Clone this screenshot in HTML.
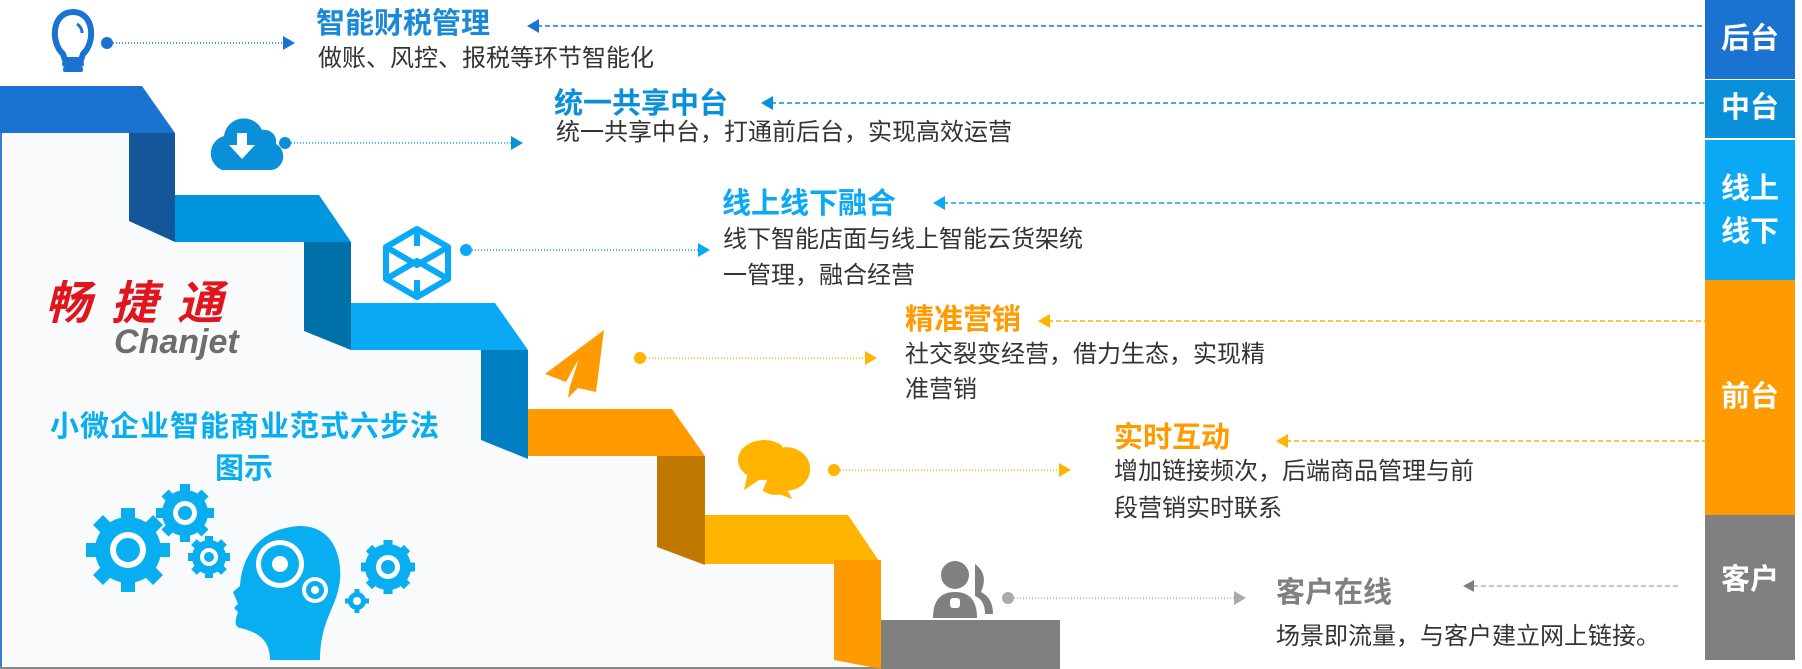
<!DOCTYPE html>
<html><head><meta charset="utf-8"><style>
html,body{margin:0;padding:0;background:#fff;}
body{width:1802px;height:669px;position:relative;overflow:hidden;font-family:"Liberation Sans","Noto Sans CJK SC",sans-serif;}
.t{position:absolute;white-space:nowrap;line-height:1;}
.h{font-weight:bold;font-size:29px;}
.s{font-size:24px;color:#333;}
.bar{position:absolute;left:1705px;width:90px;color:#fff;font-weight:bold;font-size:29px;text-align:center;display:flex;align-items:center;justify-content:center;line-height:1.5;}
</style></head><body>
<svg width="1802" height="669" style="position:absolute;left:0;top:0">
<polygon points="0,133 129,133 129,221 175,242 304,242 304,331 351,350 481,350 481,440 528,459 657,459 657,547 705,565 834,565 834,660 881,669 0,669" fill="#f9fafc"/>
<line x1="1" y1="133" x2="1" y2="669" stroke="#3a7bd0" stroke-width="2"/>
<line x1="0" y1="668" x2="881" y2="668" stroke="#888" stroke-width="2"/>
<polygon points="0,86 142,86 175,133 0,133" fill="#1a73d0"/>
<polygon points="129,133 175,133 175,242 129,221" fill="#14569a"/>
<polygon points="175,195 319,195 351,242 175,242" fill="#0095dd"/>
<polygon points="304,242 351,242 351,350 304,331" fill="#0070a8"/>
<polygon points="351,303 495,303 528,350 351,350" fill="#0aa9f5"/>
<polygon points="481,350 528,350 528,459 481,440" fill="#0080c2"/>
<polygon points="528,409 672,409 705,456 528,456" fill="#ff9a00"/>
<polygon points="657,456 705,456 705,565 657,547" fill="#c07800"/>
<polygon points="705,515 848,515 881,564 705,564" fill="#ffb400"/>
<polygon points="834,560 881,560 881,669 834,660" fill="#ff9a00"/>
<rect x="881" y="620" width="179" height="49" fill="#808080"/>

<g stroke-width="1.5" stroke-dasharray="5,3" fill="none">
<line x1="537" y1="26" x2="1705" y2="26" stroke="#1a73d0"/>
<line x1="771" y1="103" x2="1705" y2="103" stroke="#0a90d8"/>
<line x1="943" y1="203" x2="1705" y2="203" stroke="#0aa9f5"/>
<line x1="1048" y1="321" x2="1705" y2="321" stroke="#ffb400"/>
<line x1="1286" y1="441" x2="1705" y2="441" stroke="#ffb400"/>
<line x1="1473" y1="586" x2="1680" y2="586" stroke="#888" stroke-width="1"/>
</g>
<polygon points="527,26 539,19 539,33" fill="#1a73d0"/>
<polygon points="761,103 773,96 773,110" fill="#0a90d8"/>
<polygon points="933,203 945,196 945,210" fill="#0aa9f5"/>
<polygon points="1038,321 1050,314 1050,328" fill="#ffb400"/>
<polygon points="1276,441 1288,434 1288,448" fill="#ffb400"/>
<polygon points="1463,586 1474,580 1474,592" fill="#808080"/>

<g stroke-width="1.5" stroke-dasharray="1,2">
<line x1="107" y1="43" x2="285" y2="43" stroke="#1a73d0"/>
<line x1="285" y1="143" x2="512" y2="143" stroke="#0aa9f5"/>
<line x1="466" y1="250" x2="700" y2="250" stroke="#0aa9f5"/>
<line x1="640" y1="358" x2="866" y2="358" stroke="#ffb400"/>
<line x1="834" y1="470" x2="1060" y2="470" stroke="#ffb400"/>
<line x1="1008" y1="598" x2="1235" y2="598" stroke="#aaa"/>
</g>
<circle cx="107" cy="43" r="6" fill="#1a73d0"/><polygon points="295,43 283,36 283,50" fill="#1a73d0"/>
<circle cx="285" cy="143" r="6" fill="#0a90d8"/><polygon points="523,143 511,136 511,150" fill="#0a90d8"/>
<circle cx="466" cy="250" r="6" fill="#0aa9f5"/><polygon points="710,250 698,243 698,257" fill="#0aa9f5"/>
<circle cx="640" cy="358" r="6" fill="#ffb400"/><polygon points="877,358 865,351 865,365" fill="#ffb400"/>
<circle cx="834" cy="470" r="6" fill="#ffb400"/><polygon points="1071,470 1059,463 1059,477" fill="#ffb400"/>
<circle cx="1008" cy="598" r="6" fill="#aaa"/><polygon points="1246,598 1234,591 1234,605" fill="#aaa"/>

<g fill="none" stroke="#1a73d0" stroke-width="6"><path d="M63,54 C50,42 52,12 73,12 C94,12 96,42 83,54 L81,60 L65,60 Z"/></g>
<path d="M77,24 Q82,27 82,33" stroke="#1a73d0" stroke-width="3" fill="none"/>
<rect x="62" y="61" width="22" height="6" rx="3" fill="#1a73d0"/><rect x="63" y="67" width="20" height="5" rx="2" fill="#1a73d0"/>
<path d="M222,170 a18,18 0 0 1 2,-34 a20,20 0 0 1 38,-6 a12,12 0 0 1 14,14 a14,14 0 0 1 -4,26 Z" fill="#0a90d8"/>
<path d="M237,133 h10 v12 h8 l-13,14 l-13,-14 h8 Z" fill="#fff"/>
<g fill="none" stroke="#0aa9f5" stroke-width="6" stroke-linejoin="round"><polygon points="417,229 448,247 448,279 417,297 386,279 386,247"/><polyline points="386,247 417,265 448,247"/><polyline points="386,279 417,261 448,279"/><line x1="417" y1="229" x2="417" y2="246"/><line x1="417" y1="280" x2="417" y2="297"/></g>
<polygon points="604,330 545,374 566,382 578,360 570,386 568,398 578,388 596,392" fill="#ff9a00"/>
<polygon points="578,362 566,382 570,386" fill="#fff"/>
<ellipse cx="764" cy="460" rx="26" ry="20" fill="#ffb400"/><polygon points="748,472 744,490 762,478" fill="#ffb400"/>
<path d="M782,446 a22,20 0 0 1 8,46 l6,10 l-16,-6 a22,20 0 0 1 -18,-4" fill="#ffb400" stroke="#fff" stroke-width="3"/>
<circle cx="955" cy="575" r="14" fill="#808080"/><path d="M933,618 q0,-26 22,-26 q22,0 22,26 Z" fill="#808080"/>
<rect x="950" y="598" width="10" height="10" rx="3" fill="#fff"/>
<path d="M975,564 q14,10 6,28 q12,6 12,22 h-8 q0,-14 -10,-18" fill="#808080"/>

<g fill="#08aeef">
<circle cx="128" cy="550" r="33"/><g stroke="#08aeef" stroke-width="14"><line x1="128" y1="508" x2="128" y2="592"/><line x1="86" y1="550" x2="170" y2="550"/><line x1="98" y1="520" x2="158" y2="580"/><line x1="98" y1="580" x2="158" y2="520"/></g>
<circle cx="128" cy="550" r="18" fill="#fff"/><circle cx="128" cy="550" r="12"/>
<circle cx="185" cy="513" r="23"/><g stroke="#08aeef" stroke-width="10"><line x1="185" y1="484" x2="185" y2="542"/><line x1="156" y1="513" x2="214" y2="513"/><line x1="165" y1="493" x2="205" y2="533"/><line x1="165" y1="533" x2="205" y2="493"/></g>
<circle cx="185" cy="513" r="12" fill="#fff"/><circle cx="185" cy="513" r="7"/>
<circle cx="209" cy="557" r="17"/><g stroke="#08aeef" stroke-width="8"><line x1="209" y1="536" x2="209" y2="578"/><line x1="188" y1="557" x2="230" y2="557"/><line x1="194" y1="542" x2="224" y2="572"/><line x1="194" y1="572" x2="224" y2="542"/></g>
<circle cx="209" cy="557" r="9" fill="#fff"/><circle cx="209" cy="557" r="5"/>
<path d="M270,660 C270,640 258,632 240,628 C233,626 236,618 238,612 L234,608 L238,604 L233,592 L240,586 C242,555 260,528 300,526 C335,526 342,560 340,580 C337,608 320,620 320,660 Z"/>
<circle cx="280" cy="564" r="24" fill="#fff"/><circle cx="280" cy="564" r="19"/><circle cx="280" cy="564" r="8" fill="#fff"/>
<circle cx="315" cy="590" r="13" fill="#fff"/><circle cx="315" cy="590" r="9"/><circle cx="315" cy="590" r="4" fill="#fff"/>
<circle cx="388" cy="567" r="23"/><g stroke="#08aeef" stroke-width="9"><line x1="388" y1="540" x2="388" y2="594"/><line x1="361" y1="567" x2="415" y2="567"/><line x1="369" y1="548" x2="407" y2="586"/><line x1="369" y1="586" x2="407" y2="548"/></g>
<circle cx="388" cy="567" r="12" fill="#fff"/><circle cx="388" cy="567" r="7"/>
<circle cx="357" cy="601" r="9"/><g stroke="#08aeef" stroke-width="5"><line x1="357" y1="589" x2="357" y2="613"/><line x1="345" y1="601" x2="369" y2="601"/></g><circle cx="357" cy="601" r="4" fill="#fff"/>
</g>
</svg>

<div class="t h" style="left:316px;top:10px;color:#1a8ad8">智能财税管理</div>
<div class="t s" style="left:318px;top:47px">做账、风控、报税等环节智能化</div>
<div class="t h" style="left:554px;top:90px;color:#0a90d8">统一共享中台</div>
<div class="t s" style="left:556px;top:121px">统一共享中台，打通前后台，实现高效运营</div>
<div class="t h" style="left:722px;top:190px;color:#0aa9f5">线上线下融合</div>
<div class="t s" style="left:723px;top:228px">线下智能店面与线上智能云货架统</div>
<div class="t s" style="left:723px;top:264px">一管理，融合经营</div>
<div class="t h" style="left:905px;top:306px;color:#ff9a00">精准营销</div>
<div class="t s" style="left:905px;top:343px">社交裂变经营，借力生态，实现精</div>
<div class="t s" style="left:905px;top:378px">准营销</div>
<div class="t h" style="left:1114px;top:424px;color:#ff9a00">实时互动</div>
<div class="t s" style="left:1114px;top:460px">增加链接频次，后端商品管理与前</div>
<div class="t s" style="left:1114px;top:497px">段营销实时联系</div>
<div class="t h" style="left:1276px;top:579px;color:#808080">客户在线</div>
<div class="t s" style="left:1276px;top:625px">场景即流量，与客户建立网上链接。</div>

<div class="t" style="left:45px;top:280px;color:#e0161e;font-size:46px;font-weight:bold;font-style:italic;letter-spacing:20px">畅捷通</div>
<div class="t" style="left:114px;top:325px;color:#6d6d6d;font-size:34px;font-weight:bold;font-style:italic">Chanjet</div>
<div class="t" style="left:50px;top:413px;color:#08aeef;font-size:29px;font-weight:bold;letter-spacing:1px">小微企业智能商业范式六步法</div>
<div class="t" style="left:215px;top:455px;color:#08aeef;font-size:29px;font-weight:bold">图示</div>

<div class="bar" style="top:0;height:79px;background:#1a73d0">后台</div>
<div class="bar" style="top:79px;height:58px;background:#0a90d8;border-top:1px solid #fff">中台</div>
<div class="bar" style="top:138px;height:142px;background:#0aa9f5;border-top:2px solid #fff">线上<br>线下</div>
<div class="bar" style="top:280px;height:235px;background:#ff9a00">前台</div>
<div class="bar" style="top:515px;height:145px;background:#808080;align-items:flex-start;padding-top:44px;box-sizing:border-box">客户</div>
</body></html>
